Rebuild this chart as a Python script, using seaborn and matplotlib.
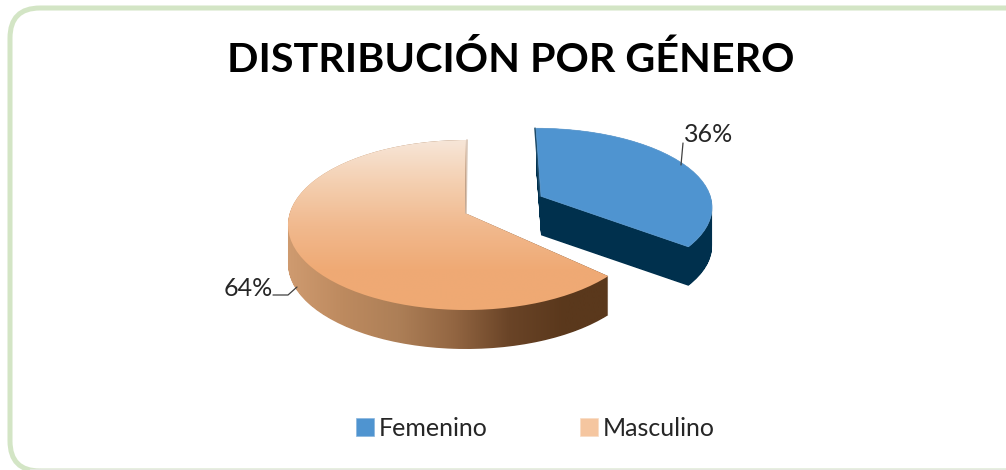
import numpy as np
import matplotlib
matplotlib.use('Agg')
import matplotlib.pyplot as plt
from matplotlib.patches import FancyBboxPatch, PathPatch, Patch
from matplotlib.path import Path
import seaborn as sns

categories = ['Femenino', 'Masculino']
values = [36, 64]
labels = ['36%', '64%']
title = 'DISTRIBUCIÓN POR GÉNERO'

sns.set_theme(style='white')
plt.rcParams['font.family'] = ['Lato', 'DejaVu Sans']

# the tilted pie: circle of radius 178 squashed to 85 px high
rx, ry = 178, 85
squash = ry / rx
depth = 39


def yd(py):
    return (470 - py) / squash


fig = plt.figure(figsize=(10.06, 4.70), dpi=100)
ax = fig.add_axes([0, 0, 1, 1])

# pie() takes explode in data units here since the radius is in pixels
wedges, _ = ax.pie(values, center=(466, yd(225)), radius=rx, explode=[77.4, 0],
                   startangle=90, counterclock=False)
ax.set_aspect('auto')
ax.set_xlim(0, 1006)
ax.set_ylim(0, yd(0))
ax.axis('off')


def face(wedge, warp, scale, shift_y, tip_shift):
    # outline of a slice, bent a little for the perspective of the original
    poly = wedge.get_path().to_polygons(closed_only=True)[0].copy()
    rel = poly - wedge.center
    tip = np.isclose(rel, 0).all(axis=1)
    phi = np.arctan2(rel[:, 0], rel[:, 1])
    phi = phi - np.radians(warp) * np.sin(phi / 2) ** 2
    r = np.hypot(rel[:, 0], rel[:, 1])
    rel = np.column_stack([r * np.sin(phi) * scale[0], r * np.cos(phi) * scale[1]])
    poly = rel + wedge.center + [0, -shift_y / squash]
    poly[tip] = np.array(wedge.center) + [tip_shift[0], -tip_shift[1] / squash]
    return poly, poly[tip][0]


def side(poly):
    return Path.make_compound_path(*[Path(poly - [0, k / squash]) for k in range(depth + 1)])


def gradient(path, colors, extent, vertical, zorder):
    rgb = np.array(sns.blend_palette(colors, 256))
    grad = rgb[:, None, :] if vertical else rgb[None, :, :]
    im = ax.imshow(grad, extent=extent, aspect='auto', zorder=zorder, interpolation='bilinear')
    im.set_clip_path(path, transform=ax.transData)


for w in wedges:
    w.set_visible(False)

blue, blue_tip = face(wedges[0], 11.7, (176 / 178, 79 / 85), -2, (5, -13))
orange, orange_tip = face(wedges[1], 3.2, (1, 1), 0, (-1, -12))

# femenino
ax.add_patch(PathPatch(side(blue), fc='#00304d', ec='none', zorder=2))
top = blue[np.argmax(blue[:, 1])]
ax.plot([top[0] - 1, blue_tip[0] - 1], [top[1], blue_tip[1]], color='#1c4a68', lw=1.2, zorder=2.5)
ax.add_patch(PathPatch(Path(blue), fc='#4f94d0', ec='#6aa5da', lw=0.5, zorder=3))

# masculino
gradient(side(orange), ['#cf9b70', '#bd8a5f', '#ad7f57', '#936642', '#6a4427', '#5a381c', '#5a381c'],
         (287, 620, 0, yd(0)), False, 4)
gradient(Path(orange), ['#f7e6d8', '#f4cfb0', '#f1b98e', '#efaa75', '#efa973'],
         (270, 620, yd(312), yd(140)), True, 5)
top = orange[np.argmax(orange[:, 1])]
ax.plot([top[0] + 1, orange_tip[0] + 1], [top[1], orange_tip[1]], color='#d8c4b4', lw=1.2, zorder=6)

# chart frame
ax.add_patch(FancyBboxPatch((40, yd(441)), 1000, yd(38) - yd(441),
                            boxstyle='round,pad=30,rounding_size=30', mutation_aspect=1 / squash,
                            fc='none', ec='#d3e5c5', lw=3.6, zorder=1))
ax.plot([30, 1006], [yd(469.3), yd(469.3)], color='#e4e8e0', lw=1, zorder=1.5)

ax.text(511, yd(60), title, ha='center', va='center', fontsize=29.7, fontweight='bold', color='black')
ax.text(709, yd(135), labels[0], ha='center', va='center', fontsize=18, color='#262626')
ax.text(248, yd(288), labels[1], ha='center', va='center', fontsize=18, color='#262626')
ax.plot([681, 683], [yd(165), yd(143)], color='#404040', lw=0.9, zorder=7)
ax.plot([273, 288, 297], [yd(295), yd(295), yd(287)], color='#404040', lw=0.9, zorder=7)

handles = [Patch(fc='#4f94d0', ec='#8ab6de', lw=0.5), Patch(fc='#f5c6a0', ec='#f8dcc4', lw=0.5)]
ax.legend(handles, categories, ncol=2, frameon=False, fontsize=18, loc='center',
          bbox_to_anchor=(535 / 1006, 1 - 428 / 470), handlelength=0.72, handleheight=0.72,
          handletextpad=0.19, columnspacing=3.7, labelcolor='#262626')

fig.savefig('out.png', dpi=100)
